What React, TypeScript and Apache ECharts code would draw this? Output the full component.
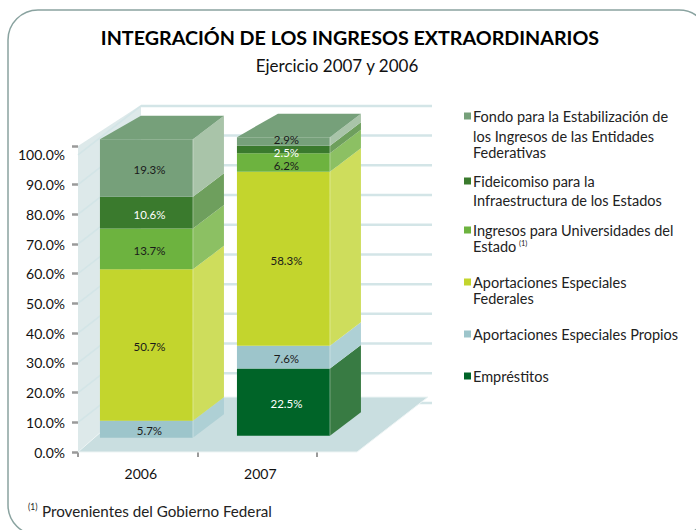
import React, { useEffect, useRef } from "react";
import * as echarts from "echarts";

const categories = ["2006", "2007"];
// stack order, bottom to top
const emprestitos = [0, 22.5];
const propios = [5.7, 7.6];
const federales = [50.7, 58.3];
const universidades = [13.7, 6.2];
const fideicomiso = [10.6, 2.5];
const fondo = [19.3, 2.9];
const yTicks = [0, 10, 20, 30, 40, 50, 60, 70, 80, 90, 100];

const stackSeries = [
  { name: "Empréstitos", values: emprestitos, front: "#006428", side: "#387b43", label: "#ffffff", labelDy: [0, 0] },
  { name: "Aportaciones Especiales Propios", values: propios, front: "#9dc5cb", side: "#aed0d5", label: "#1a1a1a", labelDy: [0, 0] },
  { name: "Aportaciones Especiales Federales", values: federales, front: "#c3d52d", side: "#cedd5c", label: "#1a1a1a", labelDy: [0, 0] },
  { name: "Ingresos para Universidades del Estado", values: universidades, front: "#6db33f", side: "#8cc063", label: "#1a1a1a", labelDy: [0, 1.5] },
  { name: "Fideicomiso para la Infraestructura de los Estados", values: fideicomiso, front: "#3a7a2d", side: "#6e9f5d", label: "#ffffff", labelDy: [0, 1.5] },
  { name: "Fondo para la Estabilización de los Ingresos de las Entidades Federativas", values: fondo, front: "#76a07a", side: "#a9c4a9", label: "#1a1a1a", labelDy: [0, -3] },
];

const FONT = "Lato";
const BAR_SHIFT = [8.7, 26.2];
const BASE_SHIFT = [-14.3, -16.3];
const BAR_W = 93;
const SIDE_DX = 31;
const TOP_DX = 41;
const DEPTH_DY = -23.5;
const WALL_DX = 63;
const WALL_DY = -49;
const BAR_K = 1.005;

function wallRender(_: any, api: any) {
  const y0 = api.coord([0, 0])[1];
  const xL = api.coord([0, 0])[0] - (api.coord([1, 0])[0] - api.coord([0, 0])[0]) / 2;
  const xR = xL + 2 * (api.coord([1, 0])[0] - api.coord([0, 0])[0]);
  const yTop = api.coord([0, 103])[1];
  const children: any[] = [];
  const back = xL + WALL_DX;
  children.push({
    type: "polygon",
    shape: { points: [[xL, yTop], [back, yTop - 41], [back, y0 - 55], [xL, y0]] },
    style: { fill: "#dde9ea" },
  });
  yTicks.forEach((v) => {
    const y = api.coord([0, v])[1];
    children.push({
      type: "line",
      shape: { x1: back, y1: y + WALL_DY, x2: 432, y2: y + WALL_DY },
      style: { stroke: "#d3e5e7", lineWidth: 2.5 },
    });
    children.push({
      type: "line",
      shape: { x1: xL, y1: y, x2: back, y2: y + WALL_DY },
      style: { stroke: "#d3e5e7", lineWidth: 1.5 },
    });
  });
  children.push({
    type: "polygon",
    shape: { points: [[xL, y0], [xR + 40, y0], [xR + 111, y0 - 55], [back, y0 - 55]] },
    style: { fill: "#c9dee0", stroke: "#eef5f5", lineWidth: 1 },
  });
  return { type: "group", children };
}

function makeBarRender(front: string, side: string, isTop: boolean) {
  return (_: any, api: any) => {
    const cat = api.value(0);
    const start = api.value(1);
    const end = api.value(2);
    const c0 = api.coord([cat, 0]);
    const toY = (v: number) => c0[1] + (api.coord([cat, v])[1] - c0[1]) * BAR_K + BASE_SHIFT[cat];
    const xa = c0[0] + BAR_SHIFT[cat] - BAR_W / 2;
    const xb = xa + BAR_W;
    const yb = toY(start);
    const yt = toY(end);
    const children: any[] = [];
    if (end > start) {
      children.push({
        type: "polygon",
        shape: { points: [[xb, yb], [xb + SIDE_DX, yb + DEPTH_DY], [xb + SIDE_DX, yt + DEPTH_DY], [xb, yt]] },
        style: { fill: side },
      });
      children.push({ type: "rect", shape: { x: xa, y: yt, width: BAR_W, height: yb - yt }, style: { fill: front } });
      children.push({
        type: "line",
        shape: { x1: xb, y1: yb, x2: xb, y2: yt },
        style: { stroke: "rgba(255,255,255,0.35)", lineWidth: 1 },
      });
    }
    if (isTop) {
      children.push({
        type: "polygon",
        shape: { points: [[xa, yt], [xa + TOP_DX, yt + DEPTH_DY], [xb + SIDE_DX, yt + DEPTH_DY], [xb, yt]] },
        style: { fill: front },
      });
    }
    return { type: "group", children };
  };
}

function makeLabelRender(color: string, labelDy: number[]) {
  return (_: any, api: any) => {
    const cat = api.value(0);
    const start = api.value(1);
    const end = api.value(2);
    if (end <= start) return { type: "group", children: [] };
    const c0 = api.coord([cat, 0]);
    const toY = (v: number) => c0[1] + (api.coord([cat, v])[1] - c0[1]) * BAR_K + BASE_SHIFT[cat];
    return {
      type: "text",
      z2: 100,
      style: {
        x: c0[0] + BAR_SHIFT[cat] + 3,
        y: (toY(start) + toY(end)) / 2 + 1.5 + labelDy[cat],
        text: (end - start).toFixed(1) + "%",
        fill: color,
        font: `11.5px "${FONT}"`,
        align: "center",
        verticalAlign: "middle",
      },
    };
  };
}

const legendItems = [
  { color: "#76a07a", y: 116, lines: [["Fondo para la Estabilización de", 116], ["los Ingresos de las Entidades", 136], ["Federativas", 152]] },
  { color: "#3a7a2d", y: 181, lines: [["Fideicomiso para la", 181], ["Infraestructura de los Estados", 200]] },
  { color: "#6db33f", y: 230, lines: [["Ingresos para Universidades del", 230], ["Estado", 246]] },
  { color: "#c3d52d", y: 282, lines: [["Aportaciones Especiales", 282], ["Federales", 298]] },
  { color: "#9dc5cb", y: 334, lines: [["Aportaciones Especiales Propios", 334]] },
  { color: "#006428", y: 376, lines: [["Empréstitos", 376]] },
];

export default function App() {
  const ref = useRef<HTMLDivElement>(null);
  useEffect(() => {
    document.body.style.margin = "0";
    const chart = echarts.init(ref.current!, undefined, { renderer: "svg" });
    const graphics: any[] = [
      {
        type: "rect",
        silent: true,
        z: -10,
        shape: { x: 8, y: 10, width: 701, height: 525, r: 30 },
        style: { fill: "#ffffff", stroke: "#8aa3a0", lineWidth: 1.5 },
      },
      {
        type: "text", x: 350, y: 37,
        style: { text: "INTEGRACIÓN DE LOS INGRESOS EXTRAORDINARIOS", font: `bold 19.7px "${FONT}"`, fill: "#000", align: "center", verticalAlign: "middle" },
      },
      {
        type: "text", x: 337, y: 65,
        style: { text: "Ejercicio 2007 y 2006", font: `17px "${FONT}"`, fill: "#111", align: "center", verticalAlign: "middle" },
      },
      {
        type: "text", x: 28, y: 507,
        style: { text: "(1)", font: `8.5px "${FONT}"`, fill: "#222", verticalAlign: "middle" },
      },
      {
        type: "text", x: 42, y: 511,
        style: { text: "Provenientes del Gobierno Federal", font: `15.2px "${FONT}"`, fill: "#222", verticalAlign: "middle" },
      },
      {
        type: "text", x: 519, y: 243,
        style: { text: "(1)", font: `7.5px "${FONT}"`, fill: "#222", verticalAlign: "middle" },
      },
    ];
    legendItems.forEach((it) => {
      graphics.push({ type: "rect", shape: { x: 464, y: it.y - 3.5, width: 7, height: 7 }, style: { fill: it.color } });
      it.lines.forEach(([t, y]) => {
        graphics.push({
          type: "text", x: 473, y: y as number,
          style: { text: t as string, font: `14.5px "${FONT}"`, fill: "#222", verticalAlign: "middle" },
        });
      });
    });
    const seriesData = (values: number[], idx: number) =>
      values.map((v, cat) => {
        let start = 0;
        for (let i = 0; i < idx; i++) start += stackSeries[i].values[cat];
        return [cat, start, start + v];
      });
    const barSeries: any[] = stackSeries.map((s, i) => ({
      type: "custom",
      name: s.name,
      coordinateSystem: "cartesian2d",
      z: 3 + i,
      renderItem: makeBarRender(s.front, s.side, i === stackSeries.length - 1),
      encode: { x: 0, y: 2 },
      data: seriesData(s.values, i),
      silent: true,
    }));
    const labelSeries: any[] = stackSeries.map((s, i) => ({
      type: "custom",
      coordinateSystem: "cartesian2d",
      z: 20,
      renderItem: makeLabelRender(s.label, s.labelDy),
      encode: { x: 0, y: 2 },
      data: seriesData(s.values, i),
      silent: true,
    }));
    chart.setOption({
      animation: false,
      backgroundColor: "#ffffff",
      grid: { left: 78, width: 239, top: 146, height: 306 },
      xAxis: {
        type: "category",
        data: categories,
        axisLine: { show: false },
        axisTick: { show: true, alignWithLabel: false, length: 5, lineStyle: { color: "#9a9a9a", width: 2 } },
        axisLabel: { color: "#111", fontFamily: FONT, fontSize: 14, margin: 14, padding: [0, 0, 0, 6] },
      },
      yAxis: {
        type: "value",
        min: 0,
        max: 103,
        splitLine: { show: false },
        axisLine: { show: false },
        axisTick: { show: true, length: 6, customValues: [0, 10, 20, 30, 40, 50, 60, 70, 80, 90, 103], lineStyle: { color: "#9a9a9a", width: 2.5 } },
        axisLabel: {
          customValues: yTicks,
          color: "#111",
          fontFamily: FONT,
          fontSize: 14,
          margin: 13,
          formatter: (v: number) => v.toFixed(1) + "%",
        },
      },
      graphic: graphics,
      series: [
        {
          type: "custom",
          coordinateSystem: "cartesian2d",
          z: 1,
          renderItem: wallRender,
          data: [[0, 0]],
          silent: true,
        },
        ...barSeries,
        ...labelSeries,
      ],
    });
    return () => chart.dispose();
  }, []);
  return <div ref={ref} style={{ width: 696, height: 530 }} />;
}
